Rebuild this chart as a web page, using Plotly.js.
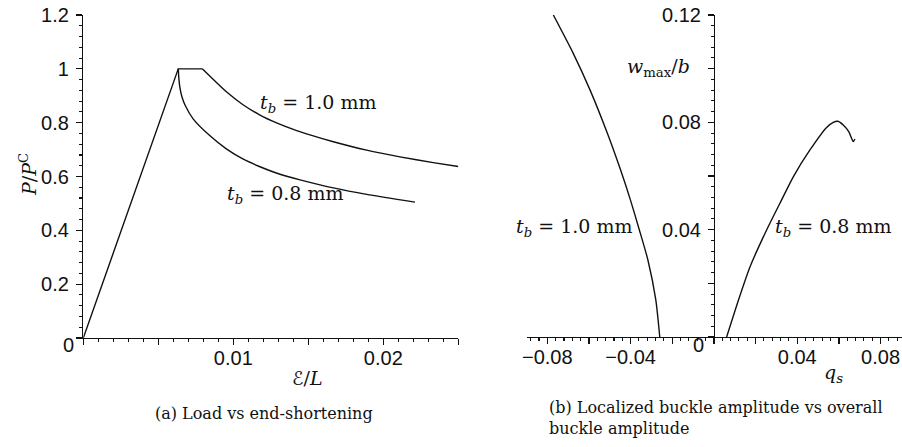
<!DOCTYPE html>
<html>
<head>
<meta charset="utf-8">
<script src="https://cdn.plot.ly/plotly-3.0.1.min.js"></script>
<style>html,body{margin:0;padding:0;background:#fff;}#chart{width:902px;height:447px;}</style>
</head>
<body>
<div id="chart"></div>
<script>
// ---- Panel (a): load vs end-shortening ----
const riseX   = [0, 0.00633, 0.00793];
const riseY   = [0, 1.0, 1.0];
const tb10X   = [0.00793, 0.00867, 0.00956, 0.01067, 0.01178, 0.01289, 0.01400, 0.01511, 0.01667, 0.01889, 0.02111, 0.02333, 0.02500];
const tb10Y   = [1.0, 0.9604, 0.9138, 0.8657, 0.8284, 0.7993, 0.7750, 0.7545, 0.7291, 0.6978, 0.6728, 0.6515, 0.6373];
const tb08X   = [0.006333, 0.006367, 0.006447, 0.006580, 0.006780, 0.007333, 0.008447, 0.009560, 0.010667, 0.011780, 0.013113, 0.014447, 0.016667, 0.018893, 0.022113];
const tb08Y   = [1.0, 0.9664, 0.9280, 0.8955, 0.8657, 0.8134, 0.7511, 0.7015, 0.6642, 0.6362, 0.6082, 0.5877, 0.5578, 0.5336, 0.5049];

// ---- Panel (b): localized vs overall buckle amplitude ----
const qs10    = [-0.0771, -0.0676, -0.0595, -0.0512, -0.0448, -0.0401, -0.0358, -0.0317, -0.0279, -0.0260];
const w10     = [0.1200, 0.1058, 0.0921, 0.0760, 0.0622, 0.0511, 0.0399, 0.0287, 0.0138, 0.0];
const qs08    = [0.0061, 0.0118, 0.0173, 0.0253, 0.0325, 0.0381, 0.0461, 0.0541, 0.0573, 0.0595, 0.0621, 0.0648, 0.0669, 0.0677];
const w08     = [0.0, 0.0138, 0.0261, 0.0399, 0.0511, 0.0597, 0.0697, 0.0781, 0.0800, 0.0804, 0.0790, 0.0764, 0.0728, 0.0738];

// tick label aliases (hide unlabelled ticks)
const aXAlias = {'0': '', '0.005': '', '0.015': '', '0.025': ''};
const aYAlias = {'0': ''};
const bXAlias = {'0': '', '−0.06': '', '−0.02': '', '0.02': '', '0.06': ''};
const bYAlias = {'0': '', '0.02': '', '0.06': '', '0.1': ''};

const W = 902, H = 447;
const px = v => v / W, py = v => (H - v) / H;
const ink = '#111';
const line = {color: ink, width: 1.4};
const sp = Object.assign({shape: 'spline', smoothing: 0.6}, line);
const tickFont = {family: 'Liberation Sans, Arial, sans-serif', size: 20, color: ink};
const serif = 'DejaVu Serif, serif';

const traces = [
  {x: riseX, y: riseY, xaxis: 'x', yaxis: 'y', mode: 'lines', line: line},
  {x: tb10X, y: tb10Y, xaxis: 'x', yaxis: 'y', mode: 'lines', line: sp},
  {x: tb08X, y: tb08Y, xaxis: 'x', yaxis: 'y', mode: 'lines', line: sp},
  {x: qs10, y: w10, xaxis: 'x2', yaxis: 'y2', mode: 'lines', line: sp},
  {x: qs08, y: w08, xaxis: 'x2', yaxis: 'y2', mode: 'lines', line: sp}
];

const axisBase = {
  showgrid: false, zeroline: false, showline: true, linecolor: ink, linewidth: 1.4,
  ticks: 'outside', ticklen: 6, tickwidth: 1.3, tickcolor: ink, tickfont: tickFont,
  tickmode: 'linear', tick0: 0, fixedrange: true
};
const minorTicks = d => ({tick0: 0, dtick: d, ticks: 'outside', ticklen: 3, tickwidth: 1.1, tickcolor: ink});

const ann = (x, y, text, size, extra) => Object.assign({
  xref: 'paper', yref: 'paper', x: px(x), y: py(y), text: text, showarrow: false,
  font: {family: serif, size: size, color: ink}, xanchor: 'center', yanchor: 'middle'
}, extra || {});

const layout = {
  width: W, height: H,
  margin: {l: 0, r: 0, t: 0, b: 0},
  paper_bgcolor: '#fff', plot_bgcolor: '#fff',
  showlegend: false,
  xaxis: Object.assign({}, axisBase, {
    domain: [px(83.3), px(458.3)], range: [0, 0.025], anchor: 'y',
    dtick: 0.005, labelalias: aXAlias, ticklabelstandoff: -4, minor: minorTicks(0.001)
  }),
  yaxis: Object.assign({}, axisBase, {
    domain: [py(338), py(15)], range: [0, 1.2], anchor: 'x',
    dtick: 0.2, labelalias: aYAlias, ticklabelstandoff: 3, minor: minorTicks(0.04)
  }),
  xaxis2: Object.assign({}, axisBase, {
    domain: [px(527.3), 1], range: [-0.0896, 0.0903], anchor: 'y2',
    dtick: 0.02, labelalias: bXAlias, ticklabelstandoff: -4, minor: minorTicks(0.004)
  }),
  yaxis2: Object.assign({}, axisBase, {
    domain: [py(337), py(15)], range: [0, 0.12], anchor: 'free', position: px(714),
    dtick: 0.02, labelalias: bYAlias, ticklabelstandoff: 3, minor: minorTicks(0.004)
  }),
  annotations: [
    Object.assign(ann(68, 345, '0', 20), {font: tickFont}),
    Object.assign(ann(698, 345, '0', 20), {font: tickFont}),
    ann(28, 175, '<i>P</i>/<i>P</i><sup>C</sup>', 19, {textangle: -90}),
    ann(307, 378, '<i>ℰ</i>/<i>L</i>', 19, {font: {family: serif + ', DejaVu Sans', size: 19, color: ink}}),
    ann(318, 103, '<i>t</i><sub><i>b</i></sub> = 1.0 mm', 19),
    ann(285, 194, '<i>t</i><sub><i>b</i></sub> = 0.8 mm', 19),
    ann(264, 413, '(a) Load vs end-shortening', 16),
    ann(658, 67, '<i>w</i><sub>max</sub>/<i>b</i>', 19),
    ann(833, 373, '<i>q</i><sub><i>s</i></sub>', 19),
    ann(574, 228, '<i>t</i><sub><i>b</i></sub> = 1.0 mm', 19),
    ann(833, 228, '<i>t</i><sub><i>b</i></sub> = 0.8 mm', 19),
    ann(547, 418, '(b) Localized buckle amplitude vs overall<br>buckle amplitude', 16, {xanchor: 'left', align: 'left'})
  ]
};

Plotly.newPlot('chart', traces, layout, {staticPlot: true, displayModeBar: false});
</script>
</body>
</html>
